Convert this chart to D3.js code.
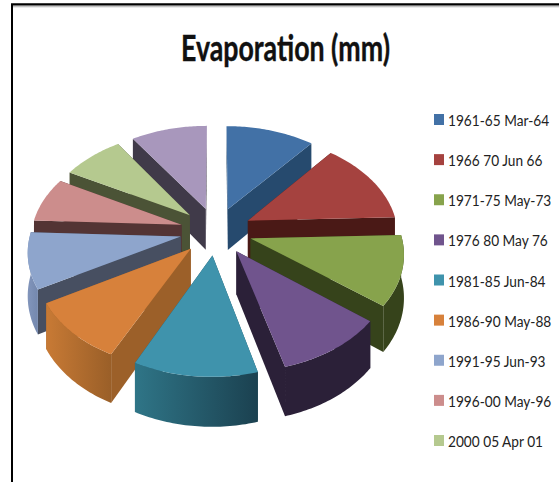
<!DOCTYPE html>
<html><head><meta charset="utf-8">
<style>html,body{margin:0;padding:0;background:#fff}svg{display:block}</style>
<script src="https://d3js.org/d3.v7.min.js"></script></head>
<body><svg id="chart" width="559" height="482"></svg>
<script>
// Share of each period in the evaporation pie; the last period has no legend row on the page.
const periods = ["1961-65 Mar-64","1966 70 Jun 66","1971-75 May-73","1976 80 May 76","1981-85 Jun-84","1986-90 May-88","1991-95 Jun-93","1996-00 May-96","2000 05 Apr 01"];
const values = [39.5,48.5,40,37,41,34.5,32,26,27.5,34];
const topColors = ["#4271a6","#a5423f","#87a34c","#70548d","#3f93ac","#d7813b","#8ea5cc","#cc8d8c","#b5c98f","#a897bc"];
const wallColors = ["#264a6e","#4a1916","#36431b","#2b2038","#1f4f5e","#9c6029","#474f61","#533434","#4b5336","#403a49"];
const rimLeft = ["#264a6e","#4a1916","#36431b","#2b2038","#2f7587","#c87a35","#8295bb","#8d6161","#7d8c60","#403a49"];
const rimRight = ["#264a6e","#4a1916","#36431b","#2b2038","#1b4150","#9a5f28","#7488ae","#533434","#4b5336","#403a49"];

const svg = d3.select("#chart");
const defs = svg.append("defs");
const cx = 216, cy = 231;
const radius = 150, explode = 36, thickness = 56;
const sinT = 0.66, cosT = 0.75, persp = 0.000856;

// Perspective projection of a point on the pie: u to the right, v toward the viewer, h downward.
function project(u, v, h) {
  const k = 1 / (1 - persp * v);
  return [cx + u * k, cy + (v * sinT + h * cosT) * k];
}
const slices = d3.pie().sort(null).value(d => d)(values);
const path = d3.line();

const parts = slices.map((s, i) => {
  const mid = (s.startAngle + s.endAngle) / 2;
  const ox = explode * Math.sin(mid), oy = -explode * Math.cos(mid);
  const at = (a, r) => [ox + r * Math.sin(a), oy - r * Math.cos(a)];
  const arcAngles = d3.range(0, 41).map(j => s.startAngle + (s.endAngle - s.startAngle) * j / 40);
  return { i, s, mid, ox, oy, at, arcAngles };
}).sort((a, b) => a.oy - b.oy);

const groups = svg.append("g").selectAll("g").data(parts).join("g");
groups.each(function (p) {
  const g = d3.select(this);
  const pt = (a, r, h) => { const q = p.at(a, r); return project(q[0], q[1], h); };
  // Radial walls: the far one first, the one facing the viewer after it.
  [p.s.startAngle, p.s.endAngle]
    .map(a => ({ a, depth: p.at(a, radius)[1] }))
    .sort((x, y) => x.depth - y.depth)
    .forEach(w => {
      g.append("path").attr("fill", wallColors[p.i])
        .attr("d", path([pt(w.a, 0, 0), pt(w.a, radius, 0), pt(w.a, radius, thickness), pt(w.a, 0, thickness)]) + "Z");
    });
  // Outer rim, only where it faces the viewer, shaded from left to right.
  const front = p.arcAngles.filter(a => Math.cos(a) < 0.05);
  if (front.length > 1) {
    const xs = front.map(a => pt(a, radius, 0)[0]);
    const gradId = "rim" + p.i;
    const grad = defs.append("linearGradient").attr("id", gradId).attr("gradientUnits", "userSpaceOnUse")
      .attr("x1", d3.min(xs)).attr("x2", d3.max(xs)).attr("y1", 0).attr("y2", 0);
    grad.append("stop").attr("offset", 0).attr("stop-color", rimLeft[p.i]);
    grad.append("stop").attr("offset", 1).attr("stop-color", rimRight[p.i]);
    const upper = front.map(a => pt(a, radius, 0));
    const lower = front.slice().reverse().map(a => pt(a, radius, thickness));
    g.append("path").attr("fill", `url(#${gradId})`).attr("d", path(upper.concat(lower)) + "Z");
  }
  // Top face of the wedge.
  const top = [pt(0, 0, 0)].concat(p.arcAngles.map(a => pt(a, radius, 0)));
  g.append("path").attr("fill", topColors[p.i]).attr("d", path(top) + "Z");
});

// Title.
svg.append("text").attr("x", 285.5).attr("y", 61).attr("text-anchor", "middle")
  .attr("font-family", "Lato,'Liberation Sans',sans-serif").attr("font-weight", "bold")
  .attr("font-size", 36).attr("fill", "#111").attr("stroke", "#111").attr("stroke-width", 0.4)
  .attr("textLength", 209).attr("lengthAdjust", "spacingAndGlyphs")
  .text("Evaporation (mm)");

// Legend rows; the labels are condensed horizontally.
const rowY = d3.scalePoint().domain(d3.range(periods.length)).range([120, 441]);
const legend = svg.append("g").selectAll("g").data(periods).join("g")
  .attr("transform", (d, i) => `translate(434,${rowY(i)})`);
legend.append("rect").attr("x", 0).attr("y", -6).attr("width", 10).attr("height", 11)
  .attr("fill", (d, i) => topColors[i]);
legend.append("text").attr("transform", "translate(14,6) scale(0.855,1)")
  .attr("font-family", "Lato,'Liberation Sans',sans-serif")
  .attr("font-size", 16).attr("fill", "#222")
  .text(d => d);

// Frame: heavy rules along the top and left edges, with a soft shadow under the top rule.
const shadow = defs.append("linearGradient").attr("id", "topShade").attr("x1", 0).attr("x2", 0).attr("y1", 0).attr("y2", 1);
shadow.append("stop").attr("offset", 0).attr("stop-color", "#888");
shadow.append("stop").attr("offset", 1).attr("stop-color", "#fff");
svg.append("rect").attr("x", 13).attr("y", 5).attr("width", 546).attr("height", 3).attr("fill", "url(#topShade)");
svg.append("path").attr("d", "M12,482V4.2H559").attr("fill", "none").attr("stroke", "#000").attr("stroke-width", 2);
</script></body></html>
